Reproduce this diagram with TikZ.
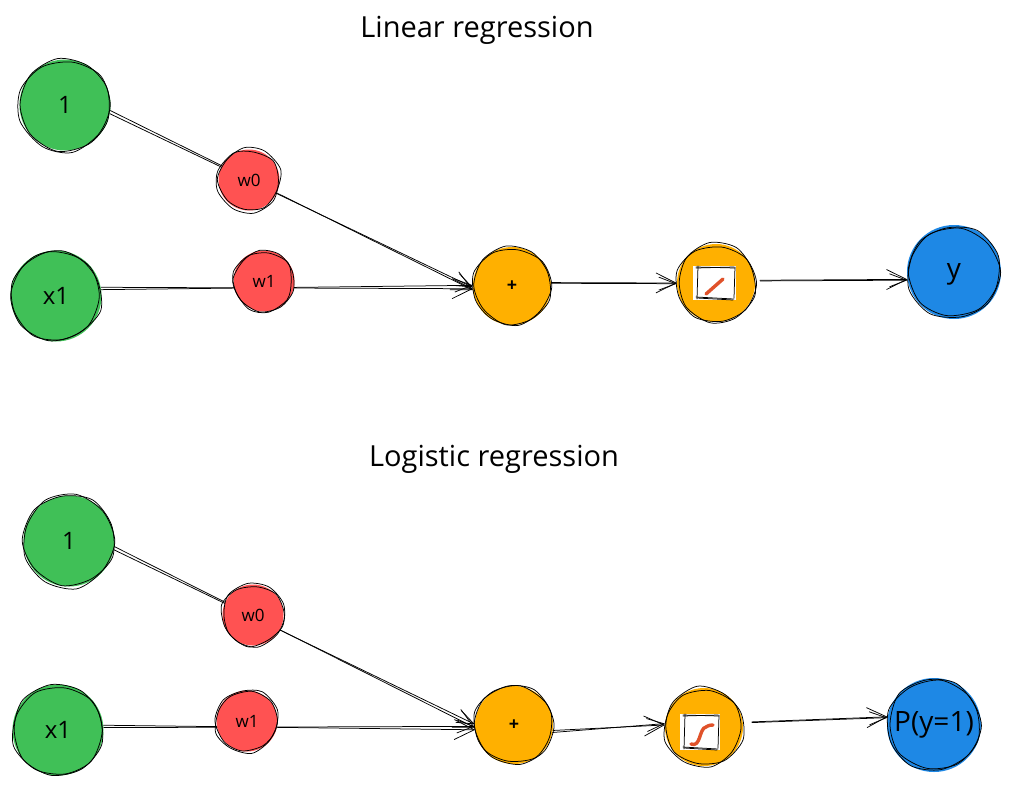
\documentclass[tikz,border=0pt]{standalone}
\usepackage{fontspec}
\setmainfont{Open Sans}
\usetikzlibrary{arrows.meta,backgrounds}
\definecolor{cgreen}{HTML}{40C057}
\definecolor{cred}{HTML}{FF5252}
\definecolor{corange}{HTML}{FFB000}
\definecolor{cblue}{HTML}{1E88E5}
\definecolor{cline}{HTML}{E0522A}
\tikzset{
  ball/.style={circle,inner sep=0pt,text=black},
  big/.style={ball,minimum size=91pt,font=\fontsize{24}{24}\selectfont},
  small/.style={ball,minimum size=61pt,font=\fontsize{17}{17}\selectfont},
  mid/.style={ball,minimum size=78pt,font=\fontsize{18}{18}\selectfont\bfseries},
  titletext/.style={font=\fontsize{29}{29}\selectfont,text=black},
  stroke/.style={black,line width=0.75pt,line cap=round,line join=round},
  conn/.style={stroke,-{Straight Barb[length=20pt,width=20pt,line width=0.75pt]}},
  conntwo/.style={stroke,-{Straight Barb[length=17pt,width=13pt,line width=0.75pt]}},
  curve/.style={cline,line width=3.4pt,line cap=round}
}
% hand drawn outline round a ball: centre x, y, radius
\newcommand{\rough}[3]{%
  \draw[stroke] plot[smooth cycle,variable=\t,domain=0:320,samples=9]
    ({#1-0.6+(#3+rand*2.2)*cos(\t)},{#2+0.6+(#3+rand*2.2)*sin(\t)});
  \draw[stroke] plot[smooth cycle,variable=\t,domain=20:340,samples=9]
    ({#1+0.5+(#3+rand*2.2)*cos(\t)},{#2-0.5+(#3+rand*2.2)*sin(\t)});
}
% hand drawn inner frame: left, top, right, bottom
\newcommand{\frameinner}[4]{%
  \fill[white] (#1,#2) rectangle (#3,#4);
  \draw[stroke] (#1+3,#2+1) -- (#3-1,#2+2);
  \draw[stroke] (#1+3,#2+2) -- (#3-2,#2+1);
  \draw[stroke] (#3-1,#2+1) -- (#3-2,#4-2);
  \draw[stroke] (#3-2,#4-1) -- (#1+3,#4-3);
  \draw[stroke] (#3-3,#4) -- (#1+4,#4-2);
  \draw[stroke] (#1+4,#4-1) -- (#1+5,#2);
}
\begin{document}
\begin{tikzpicture}[x=1pt,y=-1pt]
\pgfmathsetseed{4217}
\useasboundingbox (0,0) rectangle (1011,788);

\node[titletext] (title1) at (477,30) {Linear regression};
\node[titletext] (title2) at (494,459) {Logistic regression};

% linear regression
\node[big,fill=cgreen]   (a1) at (65,105)  {1};
\node[big,fill=cgreen]   (a2) at (56,296)  {x1};
\node[small,fill=cred]   (a3) at (249,180) {w0};
\node[small,fill=cred]   (a4) at (264,281) {w1};
\node[mid,fill=corange]  (a5) at (512,286) {+};
\node[mid,fill=corange]  (a6) at (716,283) {};
\node[big,fill=cblue,minimum size=94pt] (a7) at (954,272) {\raisebox{-6pt}[0pt][0pt]{\fontsize{28}{28}\selectfont y}};
\rough{65}{105}{46}\rough{56}{296}{45}\rough{249}{180}{31}\rough{264}{281}{30}
\rough{512}{286}{39}\rough{716}{283}{39}\rough{954}{272}{46}
\frameinner{693}{266}{736}{300}
\draw[curve] (706,294) -- (723,279);

% logistic regression
\node[big,fill=cgreen]   (b1) at (69,541)  {1};
\node[big,fill=cgreen]   (b2) at (58,730)  {x1};
\node[small,fill=cred]   (b3) at (253,615) {w0};
\node[small,fill=cred]   (b4) at (247,721) {w1};
\node[mid,fill=corange]  (b5) at (514,725) {+};
\node[mid,fill=corange]  (b6) at (704,727) {};
\node[big,fill=cblue,minimum size=94pt] (b7) at (934,725)
  {\makebox[0pt]{\fontsize{28}{28}\selectfont P(y=1)}};
\rough{69}{541}{46}\rough{58}{730}{45}\rough{253}{615}{31}\rough{247}{721}{31}
\rough{514}{725}{39}\rough{704}{727}{39}\rough{934}{725}{46}
\frameinner{680}{714}{720}{750}
\draw[curve] (691,744) .. controls (701,748) and (699,728) .. (706,727) .. controls (709,725) and (711,725) .. (713,725);

\begin{pgfonlayer}{background}
  \draw[conn]    (a1.-7)  -- (a5.186);
  \draw[conntwo] (a1.-11) -- (a5.182);
  \draw[conn]    (a2.11)  -- (a5.184);
  \draw[conntwo] (a2.8)   -- (a5.179);
  \draw[conn]    (a5.5)   -- (a6.180);
  \draw[conntwo] (a5.4)   -- (a6.181);
  \draw[conn,shorten <=5pt]    (a6.4) -- (a7.189);
  \draw[conntwo,shorten <=5pt] (a6.3) -- (a7.190);
  \draw[conn]    (b1.-7)  -- (b5.184);
  \draw[conntwo] (b1.-11) -- (b5.179);
  \draw[conn]    (b2.6)   -- (b5.187);
  \draw[conntwo] (b2.3)   -- (b5.182);
  \draw[conn]    (b5.-8)  -- (b6.177);
  \draw[conntwo] (b5.-11) -- (b6.175);
  \draw[conn,shorten <=9pt]    (b6.7) -- (b7.170);
  \draw[conntwo,shorten <=9pt] (b6.6) -- (b7.171);
\end{pgfonlayer}
\end{tikzpicture}
\end{document}
